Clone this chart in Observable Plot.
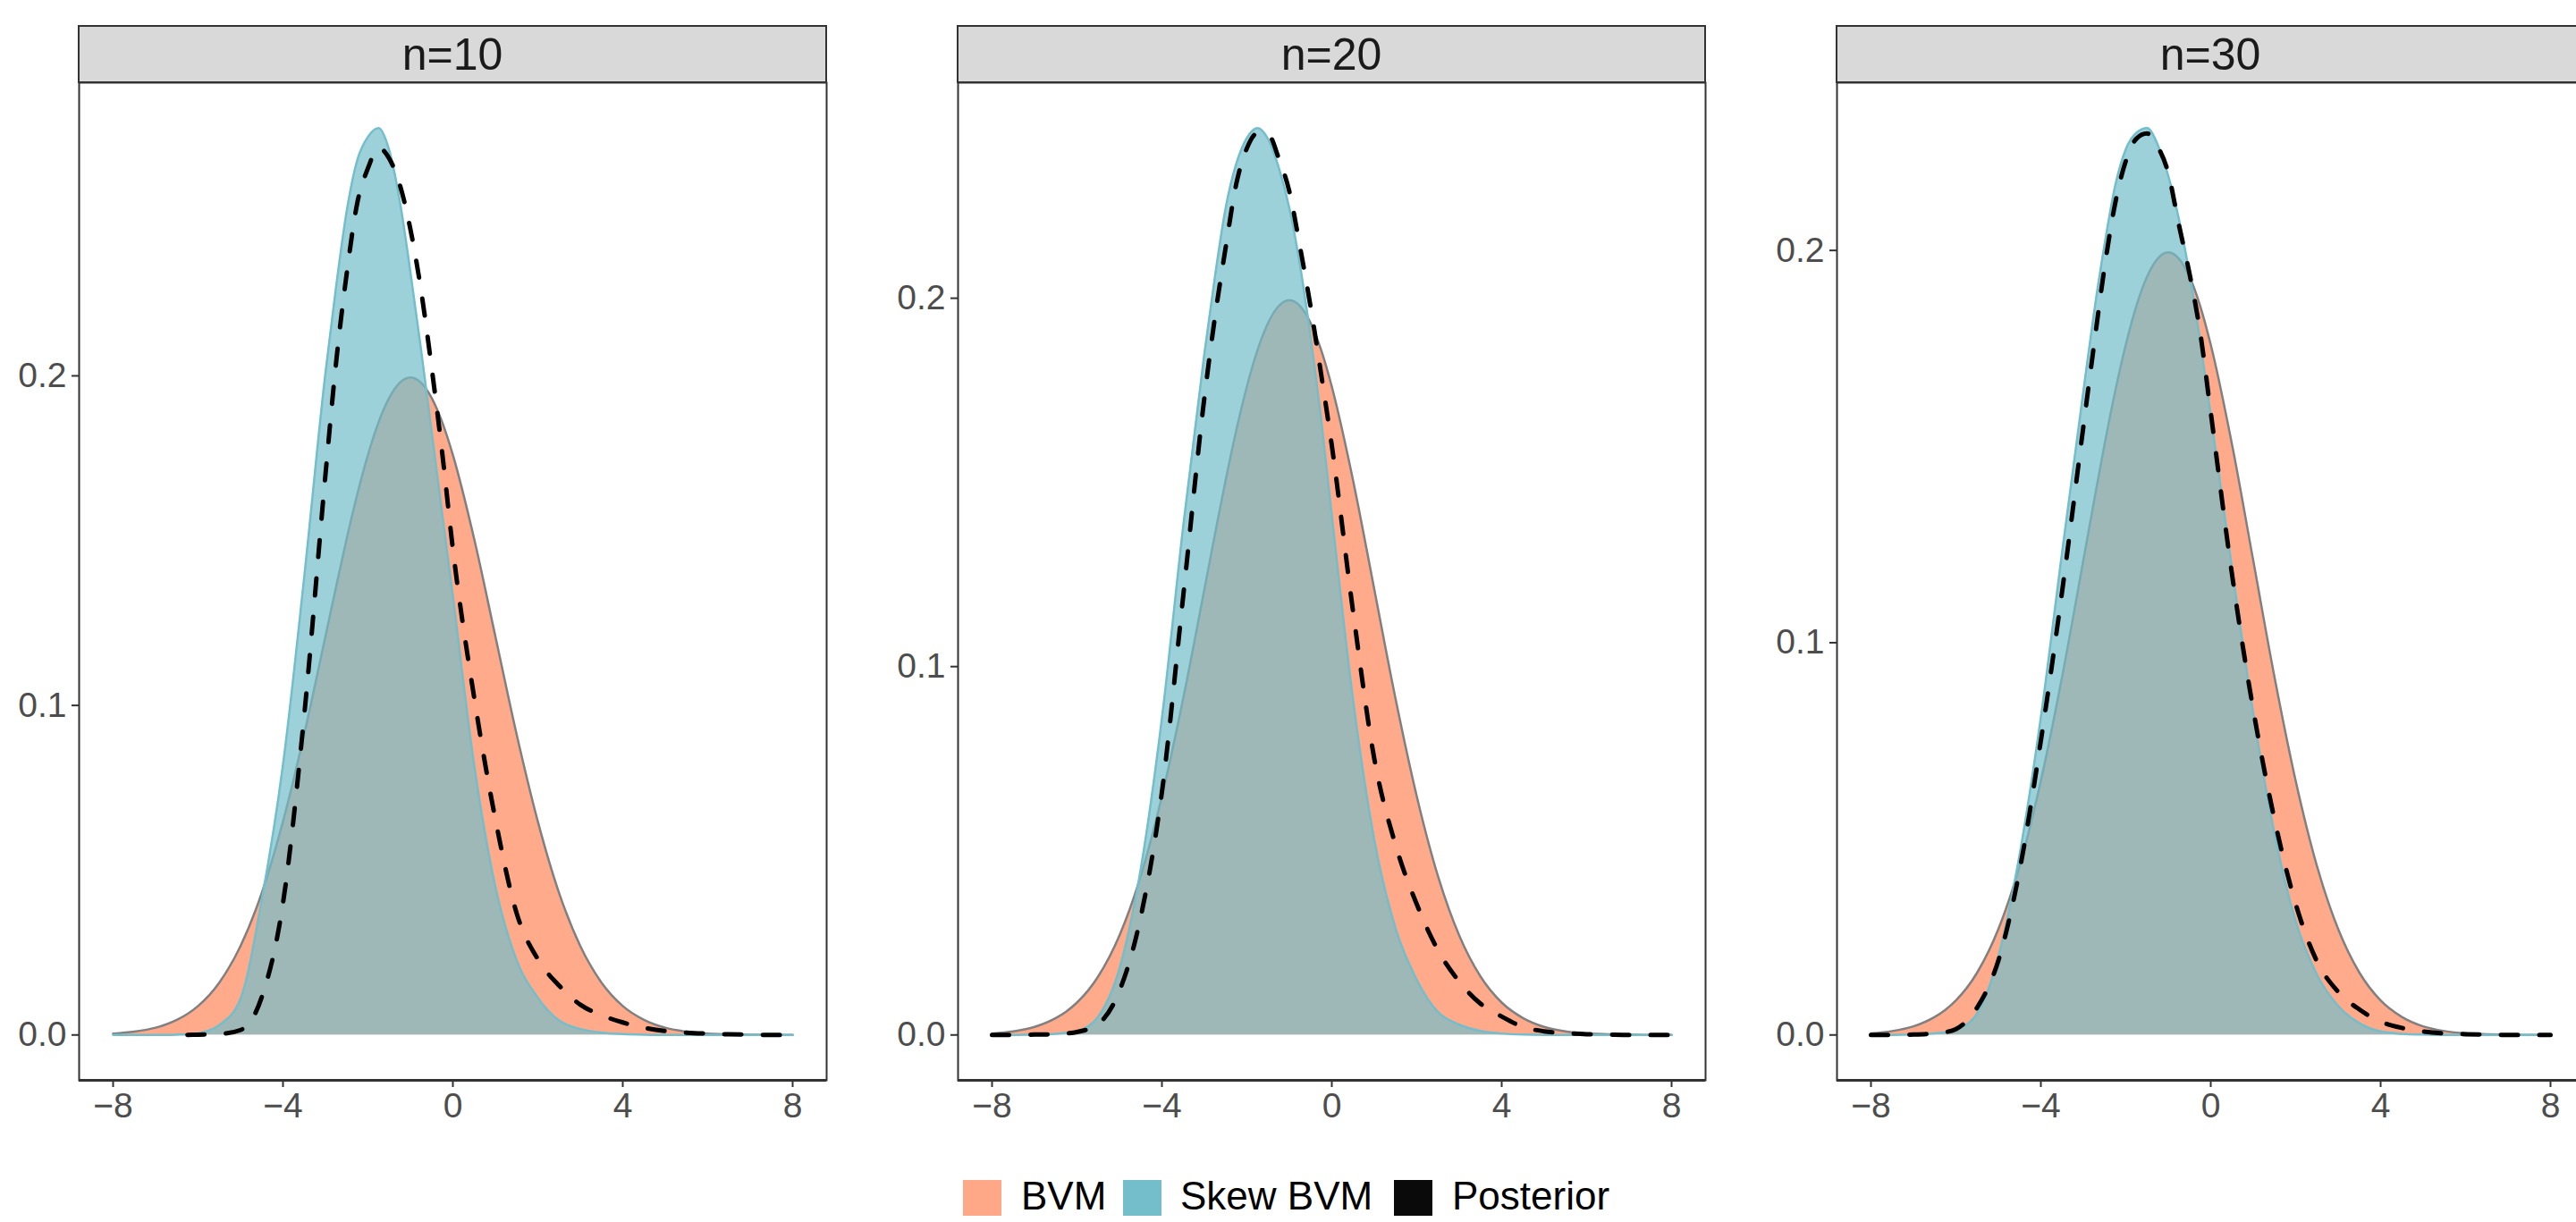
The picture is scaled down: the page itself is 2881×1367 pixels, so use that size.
<!DOCTYPE html>
<html>
<head>
<meta charset="utf-8">
<script src="https://cdn.jsdelivr.net/npm/d3@7"></script>
<script src="https://cdn.jsdelivr.net/npm/@observablehq/plot@0.6"></script>
<style>
  html, body { margin: 0; padding: 0; background: #ffffff; }
  #chart { position: relative; width: 2881px; height: 1367px; overflow: hidden; background: #ffffff;
           font-family: "Liberation Sans", Arial, Helvetica, sans-serif; }
  .strip { position: absolute; box-sizing: border-box; background: #D9D9D9; border: 2px solid #333333;
           display: flex; align-items: center; justify-content: center; color: #1A1A1A; font-size: 50px; }
  .panel { position: absolute; }
  .legend-key { position: absolute; width: 43px; height: 40px; }
  .legend-text { position: absolute; font-size: 44px; color: #000000; line-height: 40px; white-space: nowrap; }
</style>
</head>
<body>
<div id="chart"></div>
<script>
// ---- data ----
const panels = ["n=10", "n=20", "n=30"];
const xTicks = [-8, -4, 0, 4, 8];
const yTicks = [0, 0.1, 0.2];
const seriesNames = ["BVM", "Skew BVM", "Posterior"];
const seriesColors = ["#FFA888", "#74BECB", "#0A0A0A"];

const xGrid = [-8, -7.5, -7, -6.5, -6.25, -6, -5.5, -5, -4.5, -4, -3.5, -3, -2.75, -2.5, -2.25, -2, -1.75, -1.5, -1.25, -1,
  -0.75, -0.5, -0.25, 0, 0.5, 1, 1.5, 2, 2.5, 3, 3.5, 4, 4.5, 5, 5.5, 6, 6.5, 7, 7.5, 8];

// BVM density (same in all panels)
const bvm = [0.0004, 0.0010, 0.0022, 0.0046, 0.0064, 0.0088, 0.0159, 0.0270, 0.0431, 0.0648, 0.0913, 0.1210, 0.1360, 0.1506,
  0.1641, 0.1760, 0.1859, 0.1933, 0.1979, 0.1995, 0.1979, 0.1933, 0.1859, 0.1760, 0.1506, 0.1210, 0.0913, 0.0648, 0.0431,
  0.0270, 0.0159, 0.0088, 0.0046, 0.0022, 0.0010, 0.0004, 0.0002, 0.0001, 0.0000, 0.0000];

// Skew BVM densities
const skew10 = [0, 0, 0, 0.0001, 0.0002, 0.0005, 0.003, 0.011, 0.041, 0.082, 0.139, 0.201, 0.227, 0.250, 0.2655, 0.2725,
  0.2752, 0.2685, 0.253, 0.2315, 0.208, 0.183, 0.158, 0.133, 0.082, 0.045, 0.0227, 0.0113, 0.0044, 0.0018, 0.0007, 0.0003,
  0.0001, 0, 0, 0, 0, 0, 0, 0];
const skew20 = [0, 0, 0.0001, 0.0003, 0.0006, 0.0010, 0.005, 0.018, 0.045, 0.086, 0.138, 0.185, 0.206, 0.2245, 0.2365, 0.2435,
  0.2462, 0.2432, 0.2355, 0.2245, 0.209, 0.1895, 0.167, 0.141, 0.091, 0.053, 0.029, 0.015, 0.0062, 0.0028, 0.0011, 0.0004,
  0.0001, 0, 0, 0, 0, 0, 0, 0];
const skew30 = [0, 0, 0.0001, 0.0004, 0.0007, 0.0013, 0.0055, 0.020, 0.046, 0.081, 0.123, 0.164, 0.184, 0.2015, 0.2165, 0.2258,
  0.2300, 0.2312, 0.2270, 0.219, 0.208, 0.194, 0.177, 0.158, 0.119, 0.082, 0.0514, 0.029, 0.0154, 0.0074, 0.0030, 0.0009,
  0.0003, 0.0001, 0, 0, 0, 0, 0, 0];

// Posterior densities (null = not drawn)
const post10 = [null, null, null, null, 0, 0.0001, 0.0003, 0.0015, 0.0115, 0.040, 0.097, 0.170, 0.204, 0.231, 0.2525, 0.263,
  0.2692, 0.266, 0.258, 0.2445, 0.226, 0.2025, 0.1765, 0.1475, 0.1025, 0.0655, 0.037, 0.023, 0.015, 0.0092, 0.006, 0.0038,
  0.0022, 0.0012, 0.0007, 0.0004, 0.0002, 0.0001, 0, 0];
const post20 = [0, 0, 0.0001, 0.0002, 0.0004, 0.0008, 0.003, 0.012, 0.032, 0.066, 0.119, 0.173, 0.195, 0.2137, 0.231, 0.2407,
  0.2448, 0.2445, 0.238, 0.229, 0.214, 0.1977, 0.1793, 0.160, 0.115, 0.075, 0.0516, 0.0355, 0.023, 0.0145, 0.0085, 0.005,
  0.0022, 0.0010, 0.0005, 0.0002, 0.0001, 0, 0, 0];
const post30 = [0, 0, 0.0001, 0.0004, 0.0007, 0.0015, 0.007, 0.019, 0.042, 0.075, 0.113, 0.155, 0.1758, 0.1957, 0.212, 0.2228,
  0.2285, 0.2298, 0.2265, 0.2197, 0.2065, 0.1941, 0.1792, 0.1587, 0.1175, 0.0830, 0.0550, 0.0334, 0.0188, 0.0110, 0.0065,
  0.0034, 0.0018, 0.0009, 0.0004, 0.0002, 0.0001, 0, 0, 0];

const skews = [skew10, skew20, skew30];
const posts = [post10, post20, post30];

// ---- layout ----
const chart = document.getElementById("chart");
const panelLefts = [88, 1071, 2054];
const panelW = 836, panelTop = 92, panelH = 1116;
const mLeft = 88, mRight = 14, mBottom = 70;
const fmtX = d => (d < 0 ? "\u2212" + Math.abs(d) : String(d));
const fmtY = d3.format(".1f");
const curve = "monotone-x";

panels.forEach((label, i) => {
  const rows = xGrid.map((x, j) => ({x, bvm: bvm[j], skew: skews[i][j], post: posts[i][j]}));
  const M = d3.max([...bvm, ...skews[i], ...posts[i].filter(v => v != null)]);
  const svg = Plot.plot({
    width: mLeft + panelW + mRight,
    height: panelH + mBottom,
    marginLeft: mLeft, marginRight: mRight, marginTop: 0, marginBottom: mBottom,
    x: {domain: [-8.8, 8.8]},
    y: {domain: [-0.05 * M, 1.05 * M]},
    style: {background: "transparent", fontFamily: "'Liberation Sans', Arial, sans-serif", fontSize: "39px", overflow: "visible"},
    marks: [
      Plot.areaY(rows, {x: "x", y: "bvm", fill: "#FFAA8A", curve}),
      Plot.lineY(rows, {x: "x", y: "bvm", stroke: "#808080", strokeWidth: 2.5, curve}),
      Plot.areaY(rows, {x: "x", y: "skew", fill: "#74BECB", fillOpacity: 0.7, curve}),
      Plot.lineY(rows, {x: "x", y: "skew", stroke: "#74BECB", strokeWidth: 2.5, curve}),
      Plot.lineY(rows, {x: "x", y: "post", stroke: "#000000", strokeWidth: 5, strokeDasharray: "19,24", curve}),
      Plot.frame({stroke: "#333333", strokeWidth: 2}),
      Plot.ruleY([-0.05 * M], {stroke: "#333333", strokeWidth: 3}),
      Plot.axisX(xTicks, {tickSize: 8, tickPadding: 6, tickFormat: fmtX, label: null, fontSize: 39,
        fill: "#4D4D4D", stroke: "#333333", strokeWidth: 2}),
      Plot.axisY(yTicks, {tickSize: 8, tickPadding: 6, tickFormat: fmtY, label: null, fontSize: 39,
        fill: "#4D4D4D", stroke: "#333333", strokeWidth: 2})
    ]
  });
  svg.classList.add("panel");
  svg.style.left = (panelLefts[i] - mLeft) + "px";
  svg.style.top = panelTop + "px";
  chart.appendChild(svg);

  const strip = document.createElement("div");
  strip.className = "strip";
  strip.style.left = (panelLefts[i] - 1) + "px";
  strip.style.top = "28px";
  strip.style.width = (panelW + 2) + "px";
  strip.style.height = (panelTop - 28 + 1) + "px";
  strip.textContent = label;
  chart.appendChild(strip);
});

// ---- legend ----
const keyLefts = [1077, 1256, 1559];
const textLefts = [1142, 1320, 1624];
seriesNames.forEach((name, i) => {
  const key = document.createElement("div");
  key.className = "legend-key";
  key.style.left = keyLefts[i] + "px";
  key.style.top = "1320px";
  key.style.background = seriesColors[i];
  chart.appendChild(key);
  const t = document.createElement("div");
  t.className = "legend-text";
  t.style.left = textLefts[i] + "px";
  t.style.top = "1318px";
  t.textContent = name;
  chart.appendChild(t);
});
</script>
</body>
</html>
